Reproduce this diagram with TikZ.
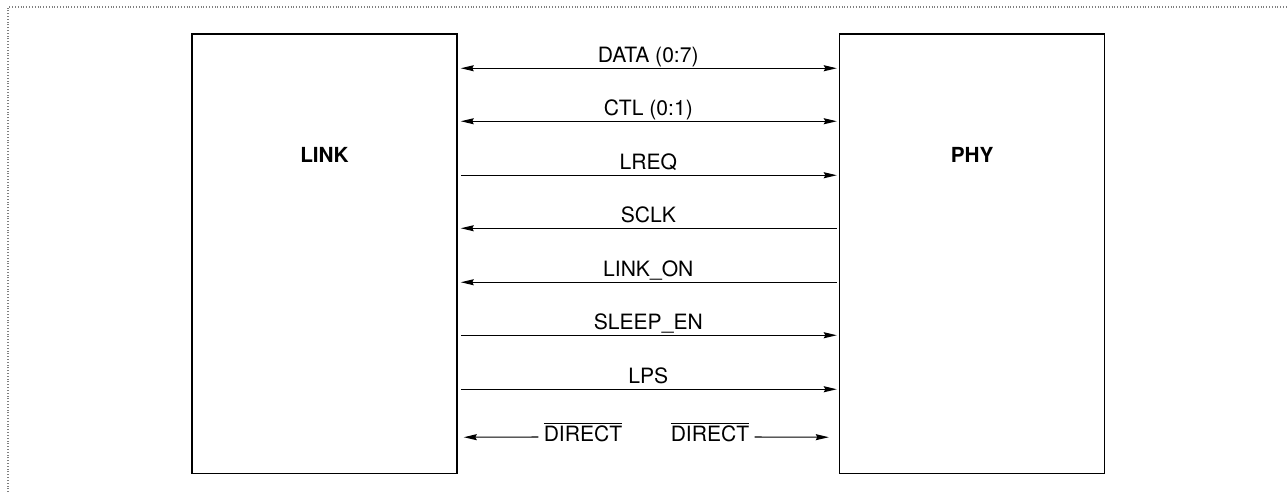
\documentclass[tikz,border=0pt]{standalone}
\usepackage{fontspec}
\setmainfont{TeX Gyre Heros}
\usepackage{xcolor}
\usepackage{tikz}
\usetikzlibrary{arrows.meta,positioning}

\begin{document}
\begin{tikzpicture}[
  node distance=7.62cm,
  unit/.style={rectangle,draw=black,line width=0.9pt,minimum width=5.3cm,minimum height=8.79cm,inner sep=0pt},
  title/.style={font=\fontsize{11.8}{14}\selectfont\bfseries},
  sigtext/.style={font=\fontsize{12}{14}\selectfont,inner sep=0.1cm},
  siglabel/.style={midway,anchor=base,yshift=0.12cm,inner sep=0pt,font=\fontsize{12}{14}\selectfont},
  sig/.style={line width=0.6pt,>={Stealth[length=0.26cm,width=0.12cm,inset=0.03cm]},shorten <=0.06cm,shorten >=0.04cm},
  frame/.style={draw=gray,line width=0.6pt,dash pattern=on 0.5pt off 1.1pt}
]
  \useasboundingbox (0,0) rectangle (25.74,-9.84);
  \draw[frame] (0.16,-9.84) -- (0.16,-0.14) -- (25.74,-0.14);

  \node[unit] (link) at (6.49,-5.075) {};
  \node[unit,right=of link] (phy) {};
  \node[title] (linktitle) at (6.49,-3.1) {LINK};
  \node[title] (phytitle) at (phy.center |- linktitle) {PHY};

  \draw[sig,<->] ([yshift=3.71cm]link.east) -- node[siglabel] {DATA (0:7)} ([yshift=3.71cm]phy.west);
  \draw[sig,<->] ([yshift=2.65cm]link.east) -- node[siglabel] {CTL (0:1)} ([yshift=2.65cm]phy.west);
  \draw[sig,->] ([yshift=1.57cm]link.east) -- node[siglabel] {LREQ} ([yshift=1.57cm]phy.west);
  \draw[sig,<-] ([yshift=0.51cm]link.east) -- node[siglabel] {SCLK} ([yshift=0.51cm]phy.west);
  \draw[sig,<-] ([yshift=-0.57cm]link.east) -- node[siglabel] {LINK\_ON} ([yshift=-0.57cm]phy.west);
  \draw[sig,->] ([yshift=-1.63cm]link.east) -- node[siglabel] {SLEEP\_EN} ([yshift=-1.63cm]phy.west);
  \draw[sig,->] ([yshift=-2.71cm]link.east) -- node[siglabel] {LPS} ([yshift=-2.71cm]phy.west);

  % DIRECT on both sides
  \node[sigtext] (dirl) at (11.66,-8.64) {$\overline{\hbox{DIRECT}}$};
  \node[sigtext] (dirr) at (14.20,-8.64) {$\overline{\hbox{DIRECT}}$};
  \draw[sig,<-,shorten <=0.12cm,shorten >=0pt] ([yshift=-3.67cm]link.east) -- ([yshift=-0.1cm]dirl.west);
  \draw[sig,->,shorten <=0pt,shorten >=0.2cm] ([yshift=-0.1cm]dirr.east) -- ([yshift=-3.67cm]phy.west);
\end{tikzpicture}
\end{document}
